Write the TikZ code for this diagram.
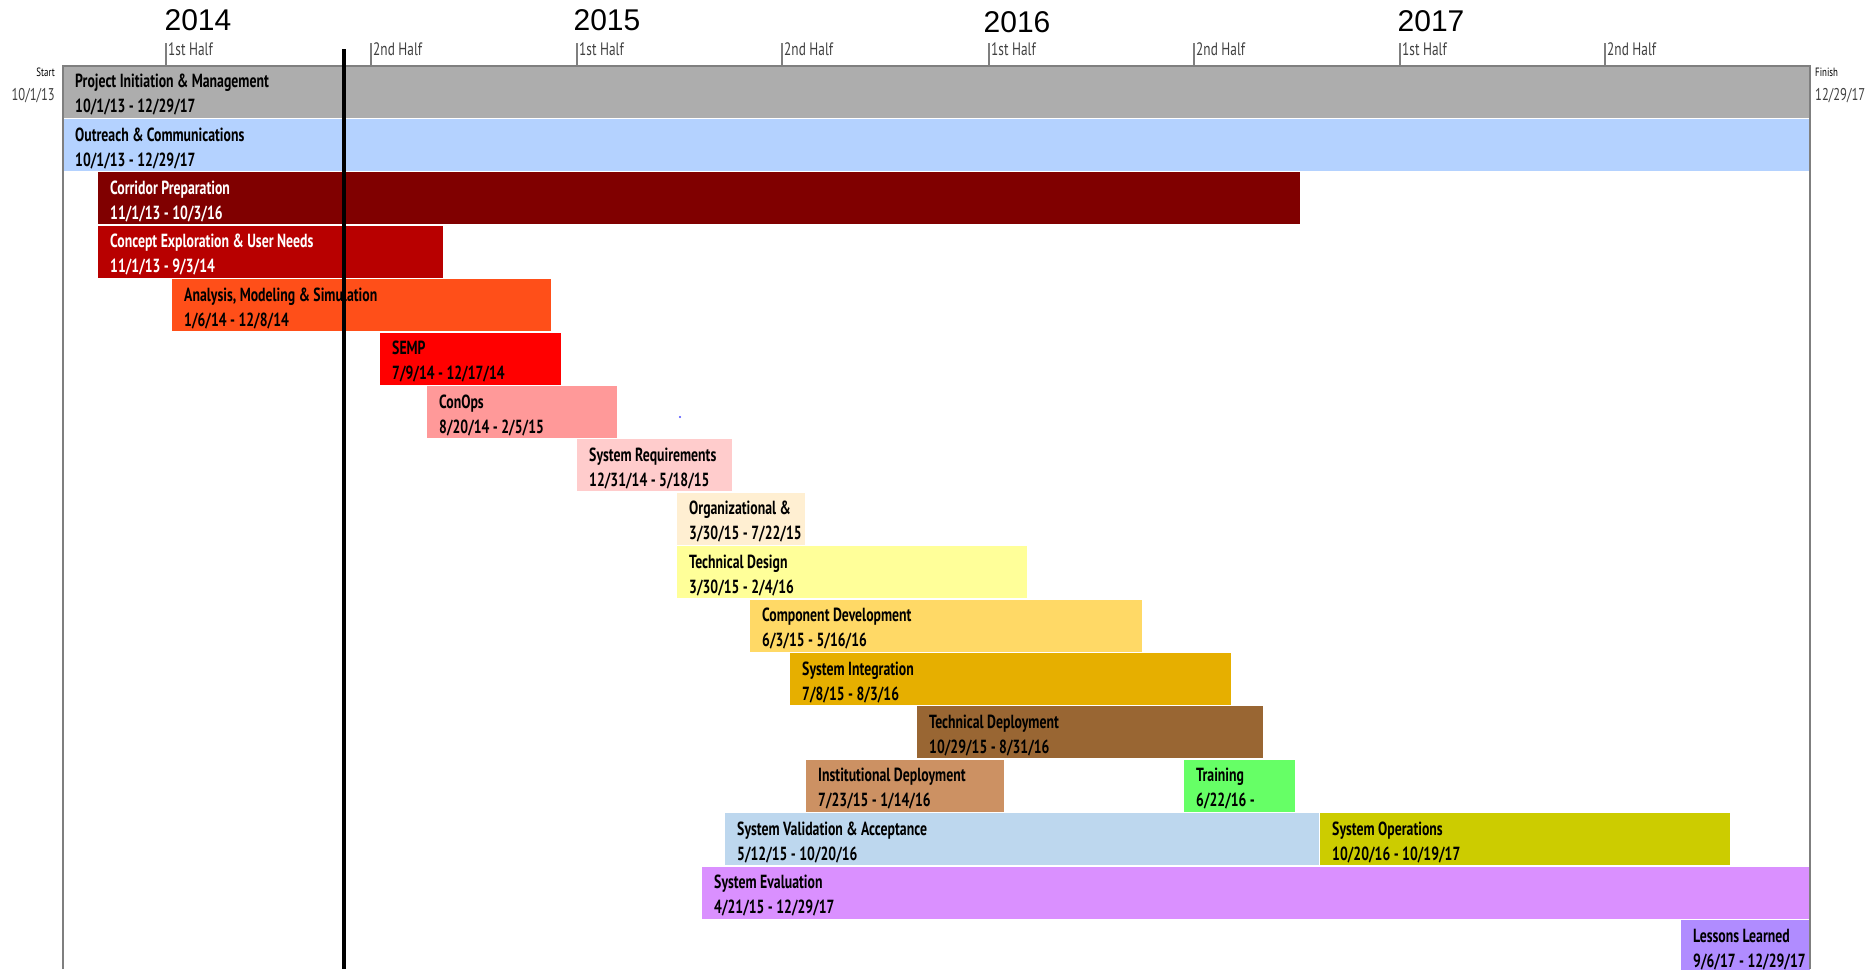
\documentclass[tikz,border=0pt]{standalone}
\usepackage{fontspec}
\newfontfamily\barfont{PT Sans}[FakeStretch=0.74]
\newfontfamily\barbold{PT Sans Bold}[FakeStretch=0.725]
\newfontfamily\yearfont{Liberation Sans}
\definecolor{cPIM}{HTML}{ADADAD}
\definecolor{cOC}{HTML}{B4D2FF}
\definecolor{cCP}{HTML}{800000}
\definecolor{cCE}{HTML}{B80000}
\definecolor{cAM}{HTML}{FF4F19}
\definecolor{cSE}{HTML}{FF0000}
\definecolor{cCO}{HTML}{FF9999}
\definecolor{cSR}{HTML}{FFCCCC}
\definecolor{cOR}{HTML}{FFEFD2}
\definecolor{cTD}{HTML}{FFFF99}
\definecolor{cCD}{HTML}{FFD966}
\definecolor{cSI}{HTML}{E6AF00}
\definecolor{cTP}{HTML}{996633}
\definecolor{cID}{HTML}{CC9163}
\definecolor{cTR}{HTML}{66FF66}
\definecolor{cSV}{HTML}{BDD7EE}
\definecolor{cSO}{HTML}{CCCC00}
\definecolor{cEV}{HTML}{DA90FF}
\definecolor{cLL}{HTML}{B08CFF}
\definecolor{frame}{HTML}{7F7F7F}
\definecolor{hdr}{HTML}{404040}
\tikzset{
  gbox/.style={anchor=north west, minimum height=52pt, inner sep=0pt, outer sep=0pt, draw=none},
  gtxt/.style={anchor=base west, inner sep=0pt, font=\barbold\fontsize{19}{22}\selectfont},
  yearlbl/.style={inner sep=0pt, font=\yearfont\fontsize{30}{34}\selectfont},
  halflbl/.style={anchor=base west, inner sep=0pt, text=hdr, font=\barfont\fontsize{18}{20}\selectfont},
  sidelbl/.style={inner sep=0pt, text=hdr, font=\barfont\fontsize{17}{20}\selectfont},
  sidesm/.style={inner sep=0pt, text=black, font=\barfont\fontsize{12}{14}\selectfont},
  tickline/.style={draw=frame, line width=1.5pt},
  frameline/.style={draw=frame, line width=2pt},
}
% name, x1, x2, row, fill, text colour, title, dates
\newcommand\gbar[8]{%
  \node[gbox, fill=#5, minimum width={(#3-#2)*1pt}] (#1) at ({#2}, {65.6+53.4*(#4-1)}) {};
  \node[gtxt, text=#6] (#1-t) at ([xshift=12pt,yshift=-22pt]#1.north west) {#7};
  \node[gtxt, text=#6] (#1-d) at ([xshift=12pt,yshift=-47pt]#1.north west) {#8};
}
\newcommand\halftick[3]{% name, x, label
  \coordinate (#1-a) at (#2,43);
  \coordinate (#1-b) at (#2,65.6);
  \draw[tickline] (#1-a) -- (#1-b);
  \node[halflbl] (#1-l) at (#2+2,55) {#3};
}
\begin{document}
\begin{tikzpicture}[x=1pt, y=-1pt]
\clip (0,0) rectangle (1870,969);
\fill[white] (0,0) rectangle (1870,969);

% years
\node[yearlbl] (y14) at (198,20) {2014};
\node[yearlbl] (y15) at (607,20) {2015};
\node[yearlbl] (y16) at (1017,22) {2016};
\node[yearlbl] (y17) at (1431,21) {2017};

% half-year ticks
\halftick{h1}{166}{1st Half}
\halftick{h2}{371}{2nd Half}
\halftick{h3}{577}{1st Half}
\halftick{h4}{782}{2nd Half}
\halftick{h5}{989}{1st Half}
\halftick{h6}{1194}{2nd Half}
\halftick{h7}{1400}{1st Half}
\halftick{h8}{1605}{2nd Half}

% start / finish
\node[sidesm, anchor=base east] (st) at (55,76) {Start};
\node[sidelbl, anchor=base east] (std) at (55,100) {10/1/13};
\node[sidesm, anchor=base west] (fi) at (1815,76) {Finish};
\node[sidelbl, anchor=base west] (fid) at (1815,100) {12/29/17};

% bars
\gbar{pim}{63}{1810}{1}{cPIM}{black}{Project Initiation \& Management}{10/1/13 - 12/29/17}
\gbar{oc}{63}{1810}{2}{cOC}{black}{Outreach \& Communications}{10/1/13 - 12/29/17}
\gbar{cp}{98}{1300}{3}{cCP}{white}{Corridor Preparation}{11/1/13 - 10/3/16}
\gbar{ce}{98}{443}{4}{cCE}{white}{Concept Exploration \& User Needs}{11/1/13 - 9/3/14}
\gbar{am}{172}{551}{5}{cAM}{black}{Analysis, Modeling \& Simulation}{1/6/14 - 12/8/14}
\gbar{se}{380}{561}{6}{cSE}{black}{SEMP}{7/9/14 - 12/17/14}
\gbar{co}{427}{617}{7}{cCO}{black}{ConOps}{8/20/14 - 2/5/15}
\gbar{sr}{577}{732}{8}{cSR}{black}{System Requirements}{12/31/14 - 5/18/15}
\gbar{or}{677}{805}{9}{cOR}{black}{Organizational \&}{3/30/15 - 7/22/15}
\gbar{td}{677}{1027}{10}{cTD}{black}{Technical Design}{3/30/15 - 2/4/16}
\gbar{cd}{750}{1142}{11}{cCD}{black}{Component Development}{6/3/15 - 5/16/16}
\gbar{si}{790}{1231}{12}{cSI}{black}{System Integration}{7/8/15 - 8/3/16}
\gbar{tp}{917}{1263}{13}{cTP}{black}{Technical Deployment}{10/29/15 - 8/31/16}
\gbar{id}{806}{1004}{14}{cID}{black}{Institutional Deployment}{7/23/15 - 1/14/16}
\gbar{tr}{1184}{1295}{14}{cTR}{black}{Training}{6/22/16 -}
\gbar{sv}{725}{1319}{15}{cSV}{black}{System Validation \& Acceptance}{5/12/15 - 10/20/16}
\gbar{so}{1320}{1730}{15}{cSO}{black}{System Operations}{10/20/16 - 10/19/17}
\gbar{ev}{702}{1810}{16}{cEV}{black}{System Evaluation}{4/21/15 - 12/29/17}
\gbar{ll}{1681}{1810}{17}{cLL}{black}{Lessons Learned}{9/6/17 - 12/29/17}

% timeline frame
\coordinate (fbl) at (63,969);
\coordinate (ftl) at (63,65.6);
\coordinate (ftr) at (1810,65.6);
\coordinate (fbr) at (1810,969);
\draw[frameline] (fbl) -- (ftl) -- (ftr) -- (fbr);

% stray dot
\fill[blue!70] (680,417) circle (1.2);

% today line
\coordinate (now-top) at (343.5,49);
\coordinate (now-bot) at (343.5,969);
\draw[line width=4pt, black] (now-top) -- (now-bot);
\end{tikzpicture}
\end{document}
